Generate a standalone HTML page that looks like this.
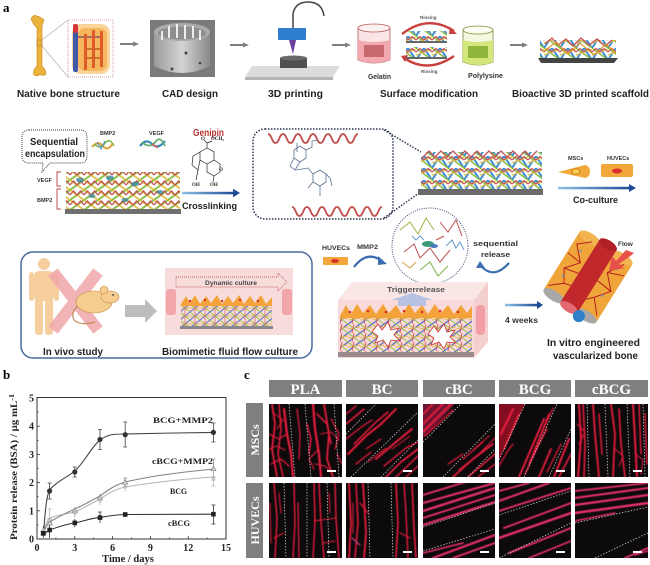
<!DOCTYPE html>
<html><head><meta charset="utf-8">
<style>
html,body{margin:0;padding:0;background:#fff;width:650px;height:565px;overflow:hidden}
svg{display:block}
.s{font-family:"Liberation Sans",Arial,sans-serif;font-weight:bold}
.r{font-family:"Liberation Serif","Times New Roman",serif;font-weight:bold}
</style></head>
<body>
<svg width="650" height="565" viewBox="0 0 650 565" xmlns="http://www.w3.org/2000/svg">
<defs>
 <filter id="fz" x="-5%" y="-5%" width="110%" height="110%"><feGaussianBlur stdDeviation="0.5"/></filter>
 <linearGradient id="bg" x1="0" x2="1" y1="0" y2="0"><stop offset="0" stop-color="#8fc0e6"/><stop offset="1" stop-color="#1f4a96"/></linearGradient>
 <linearGradient id="cad" x1="0" x2="1" y1="0" y2="0"><stop offset="0" stop-color="#9a9a9a"/><stop offset=".5" stop-color="#d4d4d4"/><stop offset="1" stop-color="#8a8a8a"/></linearGradient>
 <pattern id="lat1" width="14" height="10" patternUnits="userSpaceOnUse">
  <path d="M0,10 L14,0" stroke="#8dbf4a" stroke-width="2"/>
  <path d="M0,0 L14,10" stroke="#e2c04a" stroke-width="1.8"/>
  <path d="M0,5 L3.5,1 L7,5 L10.5,1 L14,5" stroke="#c45050" stroke-width="1.3" fill="none"/>
 </pattern>
 <pattern id="lat2" width="16" height="12" patternUnits="userSpaceOnUse">
  <path d="M0,12 L8,0 L16,12" stroke="#3a8ed4" stroke-width="2" fill="none"/>
  <path d="M0,0 L16,12" stroke="#8cc04a" stroke-width="1.6"/>
  <path d="M0,7 L16,1" stroke="#e2c04a" stroke-width="1.4"/>
  <path d="M0,4 L4,0.5 L8,4 L12,0.5 L16,4" stroke="#c45050" stroke-width="1.2" fill="none"/>
 </pattern>
 <pattern id="lat3" width="10" height="8" patternUnits="userSpaceOnUse">
  <path d="M0,8 L10,0" stroke="#6a78c8" stroke-width="1.1"/>
  <path d="M0,0 L10,8" stroke="#9bc25a" stroke-width="1"/>
  <path d="M0,4 L10,4" stroke="#e0b44a" stroke-width=".8"/>
  <path d="M5,0 L5,8" stroke="#d46060" stroke-width=".7"/>
 </pattern>
 <pattern id="lat4" width="12" height="9" patternUnits="userSpaceOnUse">
  <path d="M0,9 L12,0" stroke="#5d74c8" stroke-width="1.3"/>
  <path d="M0,0 L12,9" stroke="#9cc25a" stroke-width="1.1"/>
  <path d="M0,5 L12,3" stroke="#e3b748" stroke-width="1"/>
  <path d="M6,0 L4,9" stroke="#d45a5a" stroke-width=".9"/>
 </pattern>
</defs>

<!-- ============ PANEL A ============ -->
<text x="3" y="12" class="r" font-size="13">a</text>

<!-- bone -->
<path d="M31,19 Q33,14 37,16 Q41,17 44,20 L42,26 L42,66 Q46,70 46,74 Q43,77 40,74 Q38,77 34,75 Q32,71 37,66 L37,28 Q33,24 31,19Z" fill="#eab33c" stroke="#d08a1e" stroke-width=".6"/>
<rect x="37" y="40" width="5" height="6" fill="none" stroke="#a07040" stroke-width=".5"/>
<line x1="42" y1="40" x2="68" y2="20" stroke="#a8a8a8" stroke-width=".6"/>
<line x1="42" y1="46" x2="68" y2="77" stroke="#a8a8a8" stroke-width=".6"/>
<rect x="68" y="20" width="45" height="57" fill="#fff" stroke="#c98a8a" stroke-width=".8" stroke-dasharray="1,1"/>
<rect x="72" y="24" width="38" height="50" rx="9" fill="#fad49a"/>
<rect x="78" y="28" width="29" height="43" rx="7" fill="#f6b65e"/>
<rect x="73" y="30" width="5" height="42" rx="2" fill="#3f5aa8"/>
<rect x="73" y="24" width="5" height="9" rx="2" fill="#d4333a"/>
<rect x="78" y="36" width="22" height="2" fill="#a07060"/>
<rect x="84" y="48" width="18" height="2" fill="#c9712d"/>
<rect x="84" y="57" width="18" height="2" fill="#c9712d"/>
<rect x="84" y="34" width="3" height="36" fill="#e05a2c"/>
<rect x="92" y="30" width="3" height="38" fill="#e05a2c"/>
<rect x="100" y="31" width="3" height="36" fill="#e05a2c"/>

<!-- arrows -->
<g stroke="#7f7f7f" stroke-width="2"><line x1="120" y1="44" x2="134" y2="44"/><line x1="230" y1="45" x2="244" y2="45"/><line x1="332" y1="45" x2="346" y2="45"/><line x1="510" y1="45" x2="523" y2="45"/></g>
<g fill="#7f7f7f"><polygon points="133,41.5 139,44 133,46.5"/><polygon points="243,42.5 249,45 243,47.5"/><polygon points="345,42.5 351,45 345,47.5"/><polygon points="522,42.5 528,45 522,47.5"/></g>

<!-- CAD -->
<rect x="150" y="20" width="65" height="57" fill="#7a7a7a"/>
<path d="M154,32 L154,66 Q182,80 210,66 L210,32 Z" fill="url(#cad)"/>
<ellipse cx="182" cy="32" rx="28" ry="9" fill="#ababab"/>
<ellipse cx="182" cy="33" rx="24" ry="6.5" fill="#8e8e8e"/>
<g fill="#eee"><rect x="168" y="26" width="2" height="12"/><rect x="176" y="24" width="2" height="14"/><rect x="184" y="25" width="2" height="14"/><rect x="192" y="26" width="2" height="12"/><rect x="199" y="30" width="2" height="10"/><rect x="161" y="31" width="2" height="9"/></g>
<g fill="#444"><circle cx="172" cy="69" r="1.5"/><circle cx="186" cy="53" r="1.5"/><circle cx="200" cy="63" r="1.3"/></g>

<!-- 3D printer -->
<polygon points="245,77 333,77 340,66 252,66" fill="#dcdcdc"/>
<polygon points="245,77 333,77 333,80 245,80" fill="#b5b5b5"/>
<rect x="280" y="58" width="27" height="10" fill="#505050"/>
<ellipse cx="293.5" cy="58" rx="13.5" ry="2.5" fill="#6a6a6a"/>
<path d="M293,28 L293,14 Q295,2 308,2 Q322,2 324,16" stroke="#444" stroke-width="1.5" fill="none"/>
<rect x="278" y="28" width="28" height="12" rx="1" fill="#2f7fd0"/>
<polygon points="289,40 296,40 293,54" fill="#6a3fa0"/>

<!-- gelatin beaker -->
<path d="M358,28 L358,60 Q374,66 390,60 L390,28 Z" fill="#fbe4e5" stroke="#b35a5a" stroke-width=".8"/>
<path d="M358,40 Q374,44 390,40 L390,60 Q374,66 358,60 Z" fill="#f2aab0"/>
<rect x="364" y="45" width="20" height="12" fill="#c9686e"/>
<ellipse cx="374" cy="28" rx="16" ry="4" fill="#fdf2f2" stroke="#b35a5a" stroke-width=".8"/>
<!-- polylysine beaker -->
<path d="M463,30 L463,62 Q478,68 493,62 L493,30 Z" fill="#f4f8e0" stroke="#7d8d3a" stroke-width=".8"/>
<path d="M463,40 Q478,44 493,40 L493,62 Q478,68 463,62 Z" fill="#d4e67c"/>
<rect x="468" y="46" width="20" height="12" fill="#8fb53a"/>
<ellipse cx="478" cy="30" rx="15" ry="4" fill="#fbfdf0" stroke="#7d8d3a" stroke-width=".8"/>
<!-- rinsing -->
<path d="M402,34 Q428,14 454,31" stroke="#c9403f" stroke-width="2.4" fill="none"/>
<polygon points="450,27 457,34 449,34" fill="#c9403f"/>
<path d="M454,56 Q428,74 404,58" stroke="#c9403f" stroke-width="2.4" fill="none"/>
<polygon points="408,55 401,56 405,62" fill="#c9403f"/>
<rect x="406" y="41" width="41" height="2" fill="#666"/>
<rect x="406" y="31" width="41" height="10" fill="url(#lat2)"/>
<rect x="406" y="57" width="41" height="2" fill="#666"/>
<rect x="406" y="47" width="41" height="10" fill="url(#lat2)"/>
<text x="420" y="19" class="s" font-size="4.5" fill="#555">Rinsing</text>
<text x="421" y="73" class="s" font-size="4.5" fill="#555">Rinsing</text>
<text x="368" y="79" class="s" font-size="7" fill="#333" textLength="23" lengthAdjust="spacingAndGlyphs">Gelatin</text>
<text x="468" y="78" class="s" font-size="7" fill="#333" textLength="35" lengthAdjust="spacingAndGlyphs">Polylysine</text>

<!-- bioactive scaffold -->
<rect x="540" y="40" width="76" height="18" fill="url(#lat2)"/>
<path d="M545,44 L552,38 L558,45 L566,39 L573,46 L581,38 L589,45 L597,39 L605,46 L612,40" stroke="#c45050" stroke-width="1.3" fill="none"/>
<path d="M543,52 L556,42 L568,54 L580,43 L594,55 L606,44 L616,53" stroke="#e39a2a" stroke-width="1.2" fill="none"/>
<path d="M538,58 L618,58 L614,63 L541,63 Z" fill="#444"/>

<!-- row 1 labels -->
<g class="s" font-size="10" fill="#222">
<text x="17" y="97" textLength="103" lengthAdjust="spacingAndGlyphs">Native bone structure</text>
<text x="162" y="97" textLength="56" lengthAdjust="spacingAndGlyphs">CAD design</text>
<text x="268" y="97" textLength="55" lengthAdjust="spacingAndGlyphs">3D printing</text>
<text x="380" y="97" textLength="98" lengthAdjust="spacingAndGlyphs">Surface modification</text>
<text x="512" y="97" textLength="137" lengthAdjust="spacingAndGlyphs">Bioactive 3D printed scaffold</text>
</g>

<!-- row 2 -->
<path d="M29,130 L80,130 Q87,130 87,137 L87,156 Q87,163 80,163 L50,163 L42,172 L43,163 L29,163 Q22,163 22,156 L22,137 Q22,130 29,130 Z" stroke="#333" stroke-width=".9" stroke-dasharray="1,1" fill="none"/>
<text x="30" y="145" class="s" font-size="10" fill="#222" textLength="48" lengthAdjust="spacingAndGlyphs">Sequential</text>
<text x="25" y="157" class="s" font-size="10" fill="#222" textLength="60" lengthAdjust="spacingAndGlyphs">encapsulation</text>
<text x="100" y="135" class="s" font-size="5.5" fill="#333">BMP2</text>
<text x="149" y="135" class="s" font-size="5.5" fill="#333">VEGF</text>
<path d="M92,147 Q98,140 103,146 Q108,152 113,143" stroke="#e2a03a" stroke-width="2" fill="none"/>
<path d="M94,144 Q100,150 106,142 Q110,138 114,146" stroke="#7ab84a" stroke-width="1.5" fill="none"/>
<path d="M97,142 L101,149 L105,141" stroke="#4a8ac8" stroke-width="1" fill="none"/>
<path d="M140,146 Q146,138 152,144 Q158,150 165,141" stroke="#3a88b8" stroke-width="2.2" fill="none"/>
<path d="M142,142 Q150,150 157,140 Q161,137 165,146" stroke="#5aa86a" stroke-width="1.6" fill="none"/>
<path d="M152,144 L158,148" stroke="#d86a5a" stroke-width="1.5"/>
<text x="37" y="182" class="s" font-size="5.5" fill="#333">VEGF</text>
<text x="37" y="202" class="s" font-size="5.5" fill="#333">BMP2</text>
<path d="M61,172 L57,172 L57,186 L61,186" stroke="#b44" stroke-width=".9" fill="none"/>
<path d="M61,189 L57,189 L57,209 L61,209" stroke="#b44" stroke-width=".9" fill="none"/>
<rect x="66" y="172" width="114" height="37" fill="url(#lat1)"/>
<g fill="#3a8aa0" opacity=".8"><ellipse cx="80" cy="180" rx="4" ry="2.5"/><ellipse cx="110" cy="178" rx="4" ry="2.5"/><ellipse cx="135" cy="184" rx="4" ry="2.5"/><ellipse cx="92" cy="196" rx="3.5" ry="2"/><ellipse cx="125" cy="200" rx="3.5" ry="2"/><ellipse cx="160" cy="192" rx="3.5" ry="2"/></g>
<rect x="65" y="209" width="116" height="5" fill="#707070"/>

<text x="193" y="136" class="s" font-size="10" fill="#b83535" textLength="31" lengthAdjust="spacingAndGlyphs">Genipin</text>
<g stroke="#222" stroke-width=".7" fill="none">
<path d="M200,152 L207,148 L214,152 L214,160 L207,164 L200,160 Z"/>
<path d="M200,152 L193,156 L192,165 L198,170 L200,160"/>
<path d="M207,148 L207,143 M207,143 L204,140 M207,143 L212,141"/>
<path d="M214,160 L220,164 L220,172 L214,176 L207,172 L207,164"/>
<path d="M198,170 L196,180 M214,176 L213,182"/>
</g>
<g class="r" font-size="5" fill="#222"><text x="201" y="140">O</text><text x="211" y="140">OCH</text><text x="222" y="141" font-size="3.5">3</text><text x="192" y="186">OH</text><text x="210" y="186">OH</text><text x="219" y="171">O</text></g>
<rect x="182" y="191.8" width="52" height="2.5" fill="url(#bg)"/>
<polygon points="233,188.8 240,193 233,197.2" fill="#1f4a96"/>
<text x="182" y="209" class="s" font-size="9.5" fill="#222" textLength="55" lengthAdjust="spacingAndGlyphs">Crosslinking</text>

<rect x="253" y="129" width="140" height="90" rx="12" fill="none" stroke="#2a3550" stroke-width="1.5" stroke-dasharray="1.5,1.5"/>
<path d="M268,134 c3.75,0 3.75,9 7.5,9 s3.75,-9 7.5,-9 s3.75,9 7.5,9 s3.75,-9 7.5,-9 s3.75,9 7.5,9 s3.75,-9 7.5,-9 s3.75,9 7.5,9 s3.75,-9 7.5,-9 s3.75,9 7.5,9 s3.75,-9 7.5,-9 s3.75,9 7.5,9 s3.75,-9 7.5,-9" stroke="#c0504d" stroke-width="1.8" fill="none"/>
<path d="M292,207 c3.75,0 3.75,9 7.5,9 s3.75,-9 7.5,-9 s3.75,9 7.5,9 s3.75,-9 7.5,-9 s3.75,9 7.5,9 s3.75,-9 7.5,-9 s3.75,9 7.5,9 s3.75,-9 7.5,-9 s3.75,9 7.5,9 s3.75,-9 7.5,-9 s3.75,9 7.5,9 s3.75,-9 7.5,-9" stroke="#c0504d" stroke-width="1.8" fill="none"/>
<g stroke="#5a6f8e" stroke-width=".8" fill="none">
<path d="M297,143 L297,152 M294,150 L300,146 L306,150 L306,158 L300,162 L294,158 Z M294,158 L290,166 L295,170 L300,162 M306,150 L312,147 L312,141 M312,141 L318,140"/>
<path d="M296,170 L308,168 L313,174 M313,174 L320,170 L326,174 L326,182 L320,186 L313,182 Z M326,174 L330,178 L332,186 M320,186 L320,196 M313,182 L308,188"/>
</g>
<line x1="384" y1="130" x2="421" y2="152" stroke="#2a3550" stroke-width="1.5" stroke-dasharray="1.5,1.5"/>
<line x1="384" y1="218" x2="419" y2="193" stroke="#2a3550" stroke-width="1.5" stroke-dasharray="1.5,1.5"/>
<rect x="421" y="152" width="121" height="37" fill="url(#lat2)"/>
<path d="M423,157 L429,151 L435,157 L441,151 L447,157 L453,151 L459,157 L465,151 L471,157 L477,151 L483,157 L489,151 L495,157 L501,151 L507,157 L513,151 L519,157 L525,151 L531,157 L537,151" stroke="#c45050" stroke-width="1.3" fill="none"/>
<rect x="418" y="189" width="125" height="6" fill="#6b6b6b"/>

<text x="568" y="160" class="s" font-size="5.5" fill="#333">MSCs</text>
<text x="607" y="160" class="s" font-size="5.5" fill="#333">HUVECs</text>
<path d="M558,172 L585,165 Q590,166 590,171.5 Q590,177 585,178 Z" fill="#f1a93a"/>
<ellipse cx="576" cy="171.5" rx="4" ry="2.8" fill="#f5d04a" stroke="#c9702a" stroke-width=".8"/>
<rect x="601" y="164" width="32" height="13" rx="2" fill="#f3a73a"/>
<ellipse cx="617" cy="171" rx="5" ry="2.5" fill="#d9302e"/>
<rect x="558" y="186.8" width="72" height="2.5" fill="url(#bg)"/>
<polygon points="629,184 636,188 629,192" fill="#1f4a96"/>
<text x="573" y="203" class="s" font-size="9" fill="#222" textLength="45" lengthAdjust="spacingAndGlyphs">Co-culture</text>

<!-- row 3 -->
<rect x="21" y="252" width="291" height="106" rx="12" fill="none" stroke="#4a6a9c" stroke-width="1.5"/>
<g fill="#f7cf9f">
<circle cx="44" cy="264" r="6"/>
<rect x="34" y="271" width="20" height="30" rx="5"/>
<rect x="29" y="272" width="5" height="29" rx="2.5"/>
<rect x="54" y="272" width="5" height="29" rx="2.5"/>
<rect x="35" y="297" width="8" height="38" rx="3"/>
<rect x="45" y="297" width="8" height="38" rx="3"/>
</g>
<g stroke="#f0a6aa" stroke-width="12" opacity=".85"><line x1="53" y1="272" x2="98" y2="330"/><line x1="98" y1="272" x2="53" y2="330"/></g>
<path d="M79,305 Q70,312 74,320 Q80,326 95,322" stroke="#c5885a" stroke-width="1.2" fill="none"/>
<ellipse cx="94" cy="302" rx="18" ry="11" fill="#f5cd8e" stroke="#c58a45" stroke-width=".6"/>
<ellipse cx="110" cy="297" rx="9" ry="6" fill="#f5cd8e" stroke="#c58a45" stroke-width=".6"/>
<circle cx="104" cy="290" r="4" fill="#f5cd8e" stroke="#c58a45" stroke-width=".6"/>
<circle cx="113" cy="295" r=".9" fill="#333"/>
<polygon points="125,305 145,305 145,299 157,311 145,323 145,317 125,317" fill="#bdbdbd"/>

<rect x="165" y="268" width="128" height="67" fill="#f8dcdc"/>
<rect x="166" y="289" width="10" height="26" rx="3" fill="#f2a6aa"/>
<rect x="282" y="289" width="10" height="26" rx="3" fill="#f2a6aa"/>
<path d="M176,277 L278,277 L278,273 L287,282 L278,291 L278,287 L176,287 Z" stroke="#b0403a" stroke-width=".7" stroke-dasharray="1,1" fill="none"/>
<text x="205" y="285" class="s" font-size="6" fill="#444" textLength="52" lengthAdjust="spacingAndGlyphs">Dynamic culture</text>
<rect x="181" y="304" width="91" height="22" fill="url(#lat3)"/>
<path d="M181,304 L186,296 L190,303 L195,295 L200,304 L206,296 L211,303 L217,295 L222,304 L228,296 L233,303 L239,295 L244,304 L250,296 L255,303 L261,295 L266,304 L272,297 L272,306 L181,306 Z" fill="#f3a33a"/>
<g fill="#d9302e"><circle cx="190" cy="301" r="1.2"/><circle cx="205" cy="300" r="1.2"/><circle cx="222" cy="301" r="1.2"/><circle cx="240" cy="300" r="1.2"/><circle cx="258" cy="301" r="1.2"/></g>
<rect x="180" y="326" width="93" height="3" fill="#888"/>
<text x="43" y="355" class="s" font-size="10" fill="#222" textLength="60" lengthAdjust="spacingAndGlyphs">In vivo study</text>
<text x="162" y="355" class="s" font-size="10" fill="#222" textLength="136" lengthAdjust="spacingAndGlyphs">Biomimetic fluid flow culture</text>

<text x="322" y="250" class="s" font-size="6" fill="#333" textLength="28" lengthAdjust="spacingAndGlyphs">HUVECs</text>
<rect x="323" y="257" width="25" height="8" rx="1" fill="#f3a73a"/>
<ellipse cx="335" cy="261" rx="4" ry="2" fill="#d9302e"/>
<text x="357" y="249" class="s" font-size="6.5" fill="#333" textLength="21" lengthAdjust="spacingAndGlyphs">MMP2</text>
<path d="M354,267 Q367,250 382,261" stroke="#3d6fb0" stroke-width="2.2" fill="none"/>
<polygon points="378,256 387,264 378,265" fill="#3d6fb0"/>

<circle cx="430" cy="246" r="38" fill="#fff" stroke="#3a4a70" stroke-width="1" stroke-dasharray="1,1.3"/>
<g fill="none" stroke-width="1">
<path d="M400,230 L410,222 L418,234 L426,218 L434,230" stroke="#9bb84a"/>
<path d="M404,252 L414,244 L420,258 L430,248 L440,262 L450,250" stroke="#c05050"/>
<path d="M420,270 L430,262 L438,276 L448,266" stroke="#7ab04a"/>
<path d="M440,222 L448,232 L456,220 L462,236" stroke="#c05050"/>
<path d="M446,246 L452,240 L456,248 L460,242 L464,250" stroke="#6a9ad0"/>
<path d="M412,236 L416,240 L420,236 L424,240" stroke="#6a9ad0"/>
<path d="M402,262 L410,268 L416,262" stroke="#d8a040"/>
<path d="M436,240 L444,236" stroke="#c05050"/>
</g>
<ellipse cx="428" cy="244" rx="6" ry="3" fill="#3a9a7a"/>
<ellipse cx="434" cy="246" rx="4" ry="2" fill="#4a7ac0"/>
<text x="473" y="246" class="s" font-size="7.5" fill="#333" textLength="45" lengthAdjust="spacingAndGlyphs">sequential</text>
<text x="481" y="257" class="s" font-size="7.5" fill="#333" textLength="29" lengthAdjust="spacingAndGlyphs">release</text>
<path d="M509,263 Q494,280 481,266" stroke="#3d6fb0" stroke-width="2.2" fill="none"/>
<polygon points="476,268 480,261 485,268" fill="#3d6fb0"/>

<polygon points="338,300 352,282 488,282 474,300" fill="#fbe6e6"/>
<polygon points="474,300 488,282 488,342 474,358" fill="#f5cfd0"/>
<rect x="338" y="300" width="136" height="58" fill="#f9dada"/>
<rect x="476" y="305" width="9" height="30" rx="4" fill="#f29ea6"/>
<polygon points="398,306 426,306 426,300 433,300 412,293 391,300 398,300" fill="#b7c2e3"/>
<text x="387" y="292" class="s" font-size="7" fill="#555" textLength="58" lengthAdjust="spacingAndGlyphs">Triggerrelease</text>
<rect x="340" y="315" width="132" height="37" fill="url(#lat4)"/>
<path d="M340,316 L346,305 L351,314 L357,304 L363,313 L370,305 L376,314 L383,304 L389,313 L396,305 L402,314 L409,304 L415,313 L422,305 L428,314 L435,304 L441,313 L448,305 L454,314 L461,305 L467,313 L472,306 L472,318 L340,318 Z" fill="#f3a33a"/>
<g fill="#d9302e"><circle cx="350" cy="312" r="1.3"/><circle cx="368" cy="311" r="1.3"/><circle cx="386" cy="312" r="1.3"/><circle cx="404" cy="311" r="1.3"/><circle cx="422" cy="312" r="1.3"/><circle cx="440" cy="311" r="1.3"/><circle cx="458" cy="312" r="1.3"/></g>
<path d="M372,332 L378,324 L382,330 L388,322 L391,330 L399,328 L394,335 L400,341 L391,340 L388,347 L383,340 L375,343 L378,336 Z" fill="#fff" stroke="#d03030" stroke-width=".8"/>
<path d="M428,334 L434,326 L438,332 L444,324 L447,332 L455,330 L450,337 L456,343 L447,342 L444,349 L439,342 L431,345 L434,338 Z" fill="#fff" stroke="#d03030" stroke-width=".8"/>
<rect x="338" y="352" width="136" height="5" fill="#9a8a8e"/>

<rect x="505" y="303.8" width="33" height="2.5" fill="url(#bg)"/>
<polygon points="537,301 543,305 537,309" fill="#1f4a96"/>
<text x="505" y="323" class="s" font-size="8" fill="#333" textLength="33" lengthAdjust="spacingAndGlyphs">4 weeks</text>

<!-- vascularized bone -->
<g transform="translate(588,277) rotate(-58)">
 <rect x="-34" y="-31" width="68" height="24" fill="#f0a53a"/>
 <ellipse cx="34" cy="-19" rx="5" ry="12" fill="#f3b552"/>
 <ellipse cx="-34" cy="-19" rx="5" ry="12" fill="#a8a8a8"/>
 <rect x="-34" y="7" width="68" height="24" fill="#f0a53a"/>
 <ellipse cx="34" cy="19" rx="5" ry="12" fill="#f3b552"/>
 <ellipse cx="-34" cy="19" rx="5" ry="12" fill="#a8a8a8"/>
 <g stroke="#b52020" stroke-width="1" fill="none">
  <path d="M-28,-29 L-18,-17 L-5,-25 L8,-14 L22,-27 L32,-15"/>
  <path d="M-18,-17 L-16,-9 M8,-14 L10,-30 M-5,-25 L-2,-10"/>
  <path d="M-28,28 L-14,16 L0,27 L14,14 L30,24"/>
  <path d="M0,27 L2,9 M14,14 L20,30 M-14,16 L-20,10"/>
 </g>
 <g fill="#6a90c0" opacity=".6"><circle cx="-12" cy="-22" r="1.5"/><circle cx="18" cy="-20" r="1.5"/><circle cx="-8" cy="22" r="1.5"/><circle cx="22" cy="20" r="1.5"/></g>
 <rect x="-36" y="-10" width="74" height="20" fill="#c0282c"/>
 <ellipse cx="38" cy="0" rx="4.5" ry="10" fill="#b02024"/>
 <ellipse cx="-36" cy="0" rx="4.5" ry="10" fill="#e46a72"/>
 <circle cx="-38" cy="13" r="6" fill="#2f7fc9"/>
</g>
<polygon points="634,253 626,250 616,261 612,256 609,271 624,268 619,264 629,257" fill="#e8504a"/>
<text x="618" y="246" class="s" font-size="6.5" fill="#333">Flow</text>
<text x="547" y="346" class="s" font-size="10" fill="#222" textLength="93" lengthAdjust="spacingAndGlyphs">In vitro engineered</text>
<text x="553" y="359" class="s" font-size="10" fill="#222" textLength="85" lengthAdjust="spacingAndGlyphs">vascularized bone</text>

<!-- ============ PANEL B ============ -->
<text x="3" y="379" class="r" font-size="13">b</text>
<rect x="37" y="397.5" width="189" height="141.5" fill="none" stroke="#333" stroke-width="1"/>
<g stroke="#333" stroke-width=".8">
 <line x1="37" y1="510.8" x2="40" y2="510.8"/><line x1="37" y1="482.6" x2="40" y2="482.6"/><line x1="37" y1="454.4" x2="40" y2="454.4"/><line x1="37" y1="426.2" x2="40" y2="426.2"/>
 <line x1="37" y1="524.9" x2="38.5" y2="524.9"/><line x1="37" y1="496.7" x2="38.5" y2="496.7"/><line x1="37" y1="468.5" x2="38.5" y2="468.5"/><line x1="37" y1="440.3" x2="38.5" y2="440.3"/><line x1="37" y1="412.1" x2="38.5" y2="412.1"/>
 <line x1="74.8" y1="539" x2="74.8" y2="536"/><line x1="112.6" y1="539" x2="112.6" y2="536"/><line x1="150.4" y1="539" x2="150.4" y2="536"/><line x1="188.2" y1="539" x2="188.2" y2="536"/>
 <line x1="55.9" y1="539" x2="55.9" y2="537.5"/><line x1="93.7" y1="539" x2="93.7" y2="537.5"/><line x1="131.5" y1="539" x2="131.5" y2="537.5"/><line x1="169.3" y1="539" x2="169.3" y2="537.5"/><line x1="207.1" y1="539" x2="207.1" y2="537.5"/>
</g>
<g class="r" font-size="10" fill="#222" text-anchor="end">
 <text x="34" y="542.5">0</text><text x="34" y="514.3">1</text><text x="34" y="486.1">2</text><text x="34" y="457.9">3</text><text x="34" y="429.7">4</text><text x="34" y="401.5">5</text>
</g>
<g class="r" font-size="10" fill="#222" text-anchor="middle">
 <text x="37" y="551">0</text><text x="74.8" y="551">3</text><text x="112.6" y="551">6</text><text x="150.4" y="551">9</text><text x="188.2" y="551">12</text><text x="226" y="551">15</text>
</g>
<text x="128" y="562" class="r" font-size="10.5" fill="#222" text-anchor="middle">Time / days</text>
<text transform="translate(17,467) rotate(-90)" class="r" font-size="9.5" fill="#222" text-anchor="middle" textLength="146" lengthAdjust="spacingAndGlyphs">Protein release (BSA) / μg mL<tspan dy="-3" font-size="7">-1</tspan></text>

<g fill="none" stroke-width="1.1">
<path d="M43.3,534 C45,526 47,520 49.6,518 C58,515 66,514 74.8,512 C84,508 92,503 100,499 C108,494 115,489 125.2,487 C155,482 185,479 213.4,477" stroke="#b5b5b5"/>
<path d="M43.3,535 C45,528 47,524 49.6,522 C58,517 66,513 74.8,509 C84,505 92,500 100,496 C108,490 115,485 125.2,482 C155,475 185,472 213.4,469" stroke="#858585"/>
<path d="M43.3,536 C45,533 47,531 49.6,530 C58,527 66,524 74.8,523 C84,521 92,518 100,517.6 C108,516 115,514.6 125.2,514.5 L213.4,514.2" stroke="#333"/>
<path d="M43.3,536 C45,515 46,497 49.6,490 C56,482 66,478 74.8,471 C84,463 92,446 100,440 C108,434 115,434 125.2,434 C150,433.5 190,432.6 213.4,432.4" stroke="#444"/>
</g>
<g stroke-width=".8" fill="none">
<path stroke="#444" d="M49.6,483 V499 M47.6,483 H51.6 M47.6,499 H51.6 M74.8,467 V477 M72.8,467 H76.8 M72.8,477 H76.8 M100,429.6 V449.4 M98,429.6 H102 M98,449.4 H102 M125.2,422 V447 M123.2,422 H127.2 M123.2,447 H127.2 M213.4,423 V442 M211.4,423 H215.4 M211.4,442 H215.4 M43.3,526 V538"/>
<path stroke="#888" d="M125.2,478 V487 M123.2,478 H127.2 M213.4,459 V480 M211.4,459 H215.4 M211.4,480 H215.4 M100,494 V503 M74.8,507 V515 M49.6,518 V529"/>
<path stroke="#b5b5b5" d="M49.6,509 V529 M47.6,509 H51.6 M74.8,508 V518 M100,495 V505 M125.2,482 V491 M213.4,469 V486 M211.4,486 H215.4"/>
<path stroke="#333" d="M49.6,522 V538 M47.6,522 H51.6 M74.8,519 V527 M100,512 V523 M98,512 H102 M213.4,505 V524 M211.4,505 H215.4 M211.4,524 H215.4"/>
</g>
<g fill="#333"><circle cx="43.3" cy="532" r="2.6"/><circle cx="49.6" cy="491" r="2.6"/><circle cx="74.8" cy="472" r="2.6"/><circle cx="100" cy="439.5" r="2.6"/><circle cx="125.2" cy="434.7" r="2.6"/><circle cx="213.4" cy="432.4" r="2.6"/></g>
<g fill="#ddd" stroke="#888" stroke-width=".8"><polygon points="43.3,530.4 45.8,535 40.8,535"/><polygon points="49.6,520.5 52.1,525 47.1,525"/><polygon points="74.8,507.8 77.3,512.3 72.3,512.3"/><polygon points="100,495.1 102.5,499.6 97.5,499.6"/><polygon points="125.2,479.6 127.7,484.1 122.7,484.1"/><polygon points="213.4,466.1 215.9,470.6 210.9,470.6"/></g>
<g fill="#bbb"><polygon points="43.3,528 45.8,530.5 43.3,533 40.8,530.5"/><polygon points="49.6,516.8 52.1,519.3 49.6,521.8 47.1,519.3"/><polygon points="74.8,510.5 77.3,513 74.8,515.5 72.3,513"/><polygon points="100,497.5 102.5,500 100,502.5 97.5,500"/><polygon points="125.2,484.3 127.7,486.8 125.2,489.3 122.7,486.8"/><polygon points="213.4,475 215.9,477.5 213.4,480 210.9,477.5"/></g>
<g fill="#222"><rect x="41" y="531" width="4.6" height="4.6"/><rect x="47.3" y="527.7" width="4.6" height="4.6"/><rect x="72.5" y="520.6" width="4.6" height="4.6"/><rect x="97.7" y="515.3" width="4.6" height="4.6"/><rect x="122.9" y="512.2" width="4.6" height="4.6"/><rect x="211.1" y="511.9" width="4.6" height="4.6"/></g>
<g class="r" font-size="8.5" fill="#222">
<text x="153" y="423" textLength="60" lengthAdjust="spacingAndGlyphs">BCG+MMP2</text>
<text x="152" y="464" textLength="61" lengthAdjust="spacingAndGlyphs">cBCG+MMP2</text>
<text x="170" y="494" textLength="17" lengthAdjust="spacingAndGlyphs">BCG</text>
<text x="168" y="526" textLength="22" lengthAdjust="spacingAndGlyphs">cBCG</text>
</g>

<!-- ============ PANEL C ============ -->
<text x="244" y="379" class="r" font-size="13">c</text>
<g fill="#7f7f7f">
<rect x="269" y="380" width="73" height="17"/><rect x="346" y="380" width="72" height="17"/><rect x="423" y="380" width="72" height="17"/><rect x="499" y="380" width="72" height="17"/><rect x="575" y="380" width="73" height="17"/>
<rect x="246" y="403" width="17" height="74"/><rect x="246" y="483" width="17" height="75"/>
</g>
<g class="r" font-size="15" fill="#fff" text-anchor="middle">
<text x="305.5" y="394">PLA</text><text x="382" y="394">BC</text><text x="459" y="394">cBC</text><text x="535" y="394">BCG</text><text x="611.5" y="394">cBCG</text>
</g>
<text transform="translate(259,440) rotate(-90)" class="r" font-size="12" fill="#fff" text-anchor="middle">MSCs</text>
<text transform="translate(259,520.5) rotate(-90)" class="r" font-size="12" fill="#fff" text-anchor="middle">HUVECs</text>

<!-- PLA MSCs -->
<svg x="269" y="404" width="73" height="73" viewBox="0 0 73 73">
<rect width="73" height="73" fill="#0d0a0b"/>
<g stroke="#e61f3c" fill="none" stroke-linecap="round" filter="url(#fz)">
<path d="M3,0 L6,20 L3,45 L8,73" stroke-width="1.8"/>
<path d="M10,0 L12,25 L9,50 L14,73" stroke-width="1.5"/>
<path d="M15,5 L18,30 L22,50 L24,73" stroke-width="2.2"/>
<path d="M0,30 L10,35 L18,30" stroke-width="1.2"/>
<path d="M2,60 L12,55 L20,62" stroke-width="1.2"/>
<path d="M44,0 L46,25 L50,50 L52,73" stroke-width="2.2"/>
<path d="M48,10 L58,20 L62,40" stroke-width="1.5"/>
<path d="M55,0 L60,30 L58,55 L64,73" stroke-width="1.8"/>
<path d="M50,45 L40,55 L45,65" stroke-width="1.2"/>
<path d="M62,15 L70,30 L66,45" stroke-width="1.2"/>
<path d="M38,20 L42,35 L40,50" stroke-width="1.5"/>
<path d="M68,50 L73,60" stroke-width="1.2"/>
<path d="M28,5 L31,30 L30,55" stroke-width="1.2"/>
<path d="M6,10 L14,16 L8,25" stroke-width="1"/>
<path d="M0,45 L8,42 L16,46" stroke-width="1"/>
<path d="M52,30 L62,28 L70,36" stroke-width="1"/>
<path d="M46,60 L56,62 L62,68" stroke-width="1"/>
</g>
<g stroke="#ddd" stroke-width=".7" stroke-dasharray="1.5,1.5"><path d="M20,0 L26,73"/><path d="M36,0 L42,73"/><path d="M65,0 L70,73"/></g>
<rect x="58" y="66" width="9" height="2" fill="#fff"/>
</svg>
<!-- BC MSCs -->
<svg x="346" y="404" width="72" height="73" viewBox="0 0 72 73">
<rect width="72" height="73" fill="#0d0a0b"/>
<g stroke="#e61f3c" fill="none" stroke-linecap="round" filter="url(#fz)">
<path d="M2,50 L20,32 L35,20 L50,5" stroke-width="2"/>
<path d="M0,20 L18,5" stroke-width="1.7"/>
<path d="M8,40 L30,18 L42,8" stroke-width="1.5"/>
<path d="M0,10 L10,2" stroke-width="1.4"/>
<path d="M30,55 L50,38 L66,25" stroke-width="2"/>
<path d="M40,73 L55,58 L72,45" stroke-width="1.8"/>
<path d="M50,73 L72,52" stroke-width="1.5"/>
<path d="M20,45 L35,35" stroke-width="1.2"/>
<path d="M10,60 L25,48" stroke-width="1.2"/>
<path d="M38,62 L60,44 L72,38" stroke-width="1.4"/>
<path d="M60,73 L72,62" stroke-width="1.2"/>
<path d="M0,35 L14,24 L26,16" stroke-width="1.2"/>
<path d="M22,58 L40,44" stroke-width="1"/>
<path d="M46,45 L64,32" stroke-width="1"/>
</g>
<g stroke="#ddd" stroke-width=".7" stroke-dasharray="1.5,1.5"><path d="M0,30 L30,0"/><path d="M5,73 L72,8"/><path d="M35,73 L72,36"/></g>
<rect x="57" y="66" width="9" height="2" fill="#fff"/>
</svg>
<!-- cBC MSCs -->
<svg x="423" y="404" width="72" height="73" viewBox="0 0 72 73">
<rect width="72" height="73" fill="#0d0a0b"/>
<polygon points="0,0 32,0 0,34" fill="#9a1a45" opacity=".7"/>
<g stroke="#e61f3c" fill="none" stroke-linecap="round" filter="url(#fz)">
<path d="M0,10 L10,0" stroke-width="1.7"/>
<path d="M0,20 L20,0" stroke-width="2"/>
<path d="M0,28 L28,0" stroke-width="2.2"/>
<path d="M2,32 L30,6" stroke-width="1.5"/>
<path d="M30,73 L50,55 L70,40" stroke-width="1.8"/>
<path d="M45,73 L72,50" stroke-width="1.6"/>
<path d="M55,73 L72,60" stroke-width="1.4"/>
<path d="M25,60 L40,50" stroke-width="1.2"/>
<path d="M40,55 L60,38" stroke-width="1.2"/>
<path d="M36,66 L56,50 L72,34" stroke-width="1.2"/>
<path d="M50,46 L66,32" stroke-width="1"/>
</g>
<g stroke="#ddd" stroke-width=".7" stroke-dasharray="1.5,1.5"><path d="M0,38 L38,0"/><path d="M20,73 L72,20"/><path d="M45,73 L72,45"/></g>
<rect x="57" y="66" width="9" height="2" fill="#fff"/>
</svg>
<!-- BCG MSCs -->
<svg x="499" y="404" width="72" height="73" viewBox="0 0 72 73">
<rect width="72" height="73" fill="#0d0a0b"/>
<polygon points="0,0 26,0 0,56" fill="#b8102a" opacity=".7"/>
<g stroke="#e61f3c" fill="none" stroke-linecap="round" filter="url(#fz)">
<path d="M2,30 L14,5" stroke-width="2.2"/>
<path d="M5,45 L20,10" stroke-width="1.7"/>
<path d="M20,73 L45,15" stroke-width="2"/>
<path d="M30,60 L50,10" stroke-width="1.6"/>
<path d="M26,70 L40,40 L48,25" stroke-width="1.4"/>
<path d="M55,73 L70,35" stroke-width="2"/>
<path d="M60,73 L72,50" stroke-width="1.6"/>
<path d="M40,73 L52,45" stroke-width="1.8"/>
<path d="M34,50 L46,22 L54,4" stroke-width="1.2"/>
<path d="M48,68 L62,40" stroke-width="1.2"/>
<path d="M0,62 L8,48 L14,40" stroke-width="1.2"/>
</g>
<g stroke="#ddd" stroke-width=".7" stroke-dasharray="1.5,1.5"><path d="M0,56 L26,0"/><path d="M25,73 L58,0"/><path d="M50,73 L72,25"/></g>
<rect x="57" y="66" width="9" height="2" fill="#fff"/>
</svg>
<!-- cBCG MSCs -->
<svg x="575" y="404" width="73" height="73" viewBox="0 0 73 73">
<rect width="73" height="73" fill="#0d0a0b"/>
<g stroke="#e61f3c" fill="none" stroke-linecap="round" filter="url(#fz)">
<path d="M4,0 L6,35 L3,73" stroke-width="2"/>
<path d="M8,0 L10,40 L9,73" stroke-width="1.6"/>
<path d="M18,0 L20,30 L24,73" stroke-width="1.8"/>
<path d="M24,10 L27,50" stroke-width="1.4"/>
<path d="M36,0 L40,30 L38,73" stroke-width="1.8"/>
<path d="M44,5 L46,40 L50,73" stroke-width="1.6"/>
<path d="M58,0 L60,35 L62,73" stroke-width="2"/>
<path d="M64,0 L66,50" stroke-width="1.4"/>
<path d="M70,10 L72,60" stroke-width="1.4"/>
<path d="M2,20 L10,28 L4,40" stroke-width="1"/>
<path d="M40,45 L48,52 L44,62" stroke-width="1"/>
<path d="M60,50 L68,56 L66,70" stroke-width="1"/>
</g>
<g stroke="#ddd" stroke-width=".7" stroke-dasharray="1.5,1.5"><path d="M12,0 L14,73"/><path d="M30,0 L33,73"/><path d="M52,0 L55,73"/><path d="M68,0 L70,73"/></g>
<rect x="58" y="66" width="9" height="2" fill="#fff"/>
</svg>

<!-- PLA HUVECs -->
<svg x="269" y="483" width="73" height="75" viewBox="0 0 73 75">
<rect width="73" height="75" fill="#0d0a0b"/>
<g stroke="#e61f3c" fill="none" stroke-linecap="round" filter="url(#fz)">
<path d="M5,0 L8,35 L6,75" stroke-width="1.4"/>
<path d="M25,0 L26,40 L24,75" stroke-width="1.4"/>
<path d="M29,20 L30,75" stroke-width="1.2"/>
<path d="M45,0 L46,38 L44,75" stroke-width="1.4"/>
<path d="M50,0 L52,40 L55,75" stroke-width="1.4"/>
<path d="M66,0 L67,35 L70,75" stroke-width="1.4"/>
<path d="M45,38 L67,35" stroke-width="1"/>
<path d="M5,55 L15,50" stroke-width="1"/>
<path d="M10,10 L12,30" stroke-width="1"/>
<path d="M55,60 L66,58" stroke-width="1"/>
<path d="M1,20 L2,60" stroke-width="1"/>
<path d="M60,10 L61,30" stroke-width="1"/>
</g>
<g stroke="#ddd" stroke-width=".7" stroke-dasharray="1.5,1.5"><path d="M15,0 L17,75"/><path d="M38,0 L38,75"/><path d="M58,0 L60,75"/></g>
<rect x="58" y="68" width="9" height="2" fill="#fff"/>
</svg>
<!-- BC HUVECs -->
<svg x="346" y="483" width="72" height="75" viewBox="0 0 72 75">
<rect width="72" height="75" fill="#0d0a0b"/>
<g stroke="#e61f3c" fill="none" stroke-linecap="round" filter="url(#fz)">
<path d="M3,0 L5,40 L3,75" stroke-width="1.7"/>
<path d="M10,0 L12,40 L9,75" stroke-width="1.5"/>
<path d="M17,0 L20,50 L18,75" stroke-width="1.8"/>
<path d="M14,20 L22,30" stroke-width="1.2"/>
<path d="M50,0 L52,40 L50,75" stroke-width="1.6"/>
<path d="M58,0 L60,30 L62,75" stroke-width="1.4"/>
<path d="M66,0 L68,45 L70,75" stroke-width="1.6"/>
<path d="M6,55 L14,62" stroke-width="1.2" stroke="#c04080"/>
<path d="M7,20 L7,50" stroke-width="1"/>
<path d="M54,50 L64,55" stroke-width="1"/>
</g>
<g stroke="#ddd" stroke-width=".7" stroke-dasharray="1.5,1.5"><path d="M22,0 L24,75"/><path d="M45,0 L47,75"/></g>
<rect x="57" y="68" width="9" height="2" fill="#fff"/>
</svg>
<!-- cBC HUVECs -->
<svg x="423" y="483" width="72" height="75" viewBox="0 0 72 75">
<rect width="72" height="75" fill="#0d0a0b"/>
<g stroke="#e8306a" fill="none" stroke-linecap="round" filter="url(#fz)">
<path d="M0,12 L72,-10" stroke-width="1.8"/>
<path d="M0,20 L72,0" stroke-width="2"/>
<path d="M0,28 L72,5" stroke-width="2.4"/>
<path d="M0,35 L72,12" stroke-width="1.8"/>
<path d="M0,42 L72,19" stroke-width="2.2"/>
<path d="M10,75 L72,52" stroke-width="2.2"/>
<path d="M30,75 L72,60" stroke-width="1.8"/>
<path d="M0,70 L40,60" stroke-width="1.6"/>
</g>
<g stroke="#ddd" stroke-width=".7" stroke-dasharray="1.5,1.5"><path d="M0,44 L72,20"/><path d="M0,68 L72,46"/></g>
<rect x="57" y="68" width="9" height="2" fill="#fff"/>
</svg>
<!-- BCG HUVECs -->
<svg x="499" y="483" width="72" height="75" viewBox="0 0 72 75">
<rect width="72" height="75" fill="#0d0a0b"/>
<g stroke="#e8306a" fill="none" stroke-linecap="round" filter="url(#fz)">
<path d="M0,8 L30,0" stroke-width="1.8"/>
<path d="M0,18 L50,0" stroke-width="2"/>
<path d="M0,28 L72,5" stroke-width="1.8"/>
<path d="M5,45 L72,20" stroke-width="1.8"/>
<path d="M0,55 L72,30" stroke-width="2.4"/>
<path d="M10,70 L72,45" stroke-width="1.8"/>
<path d="M30,75 L72,58" stroke-width="1.6"/>
</g>
<g stroke="#ddd" stroke-width=".7" stroke-dasharray="1.5,1.5"><path d="M0,32 L72,8"/><path d="M0,75 L72,40"/></g>
<rect x="57" y="68" width="9" height="2" fill="#fff"/>
</svg>
<!-- cBCG HUVECs -->
<svg x="575" y="483" width="73" height="75" viewBox="0 0 73 75">
<rect width="73" height="75" fill="#0d0a0b"/>
<g stroke="#e8306a" fill="none" stroke-linecap="round" filter="url(#fz)">
<path d="M0,8 L73,0" stroke-width="1.8"/>
<path d="M0,15 L73,5" stroke-width="2"/>
<path d="M0,22 L73,12" stroke-width="2.2"/>
<path d="M0,30 L73,20" stroke-width="2.4"/>
<path d="M0,38 L40,30" stroke-width="1.6"/>
<path d="M50,75 L73,65" stroke-width="1.8"/>
<path d="M60,72 L73,68" stroke-width="1.4"/>
</g>
<g stroke="#ddd" stroke-width=".7" stroke-dasharray="1.5,1.5"><path d="M0,40 L73,24"/><path d="M20,75 L73,50"/></g>
<rect x="58" y="68" width="9" height="2" fill="#fff"/>
</svg>

</svg>
</body></html>
